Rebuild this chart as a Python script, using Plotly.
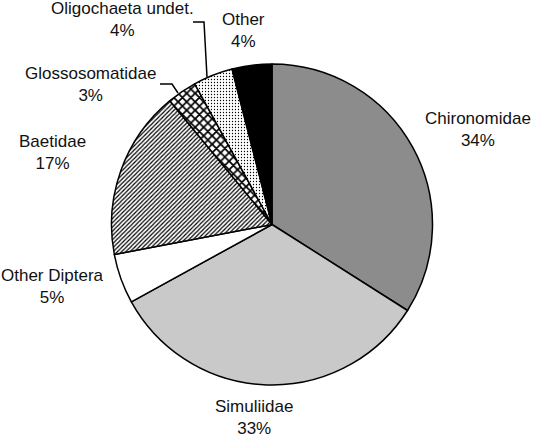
import plotly.graph_objects as go

taxa = ["Chironomidae", "Simuliidae", "Other Diptera", "Baetidae",
        "Glossosomatidae", "Oligochaeta undet.", "Other"]
percent = [34, 33, 5, 17, 3, 4, 4]

fills = ["#8c8c8c", "#c9c9c9", "#ffffff", "#ffffff", "#ffffff", "#ffffff", "#000000"]
patterns = ["", "", "", "/", "x", ".", ""]

# label anchor points in pixels (x from left, y from top)
label_pos = {
    "Chironomidae": (478, 130),
    "Simuliidae": (254, 417),
    "Other Diptera": (52, 286),
    "Baetidae": (52, 152),
    "Glossosomatidae": (90, 84),
    "Oligochaeta undet.": (122, 20),
    "Other": (243, 30),
}

W, H = 536, 439
FONT = "Liberation Sans Narrow, Liberation Sans, Arial, sans-serif"

fig = go.Figure()
fig.add_pie(
    labels=taxa,
    values=percent,
    sort=False,
    direction="clockwise",
    rotation=0,
    textinfo="none",
    hoverinfo="label+percent",
    marker=dict(
        colors=fills,
        line=dict(color="#000000", width=1.5),
        pattern=dict(
            shape=patterns,
            fgcolor="#000000",
            bgcolor="#ffffff",
            size=[6, 6, 6, 3, 6, 3, 6],
            solidity=[0.3, 0.3, 0.3, 0.4, 0.5, 0.15, 0.3],
        ),
    ),
    domain=dict(x=[111 / W, 433 / W], y=[1 - 385 / H, 1 - 64 / H]),
    showlegend=False,
)

for name, pct in zip(taxa, percent):
    px, py = label_pos[name]
    fig.add_annotation(
        x=px / W, y=1 - py / H, xref="paper", yref="paper",
        text=f"{name}<br>{pct}%", showarrow=False,
        font=dict(family=FONT, size=17, color="#111111"),
        xanchor="center", yanchor="middle",
    )

# leader lines for the two narrow slices
leaders = [
    [(193, 22), (204, 22), (207, 77)],
    [(160, 84), (172, 84), (178, 93)],
]
for pts in leaders:
    path = "M " + " L ".join(f"{x / W} {1 - y / H}" for x, y in pts)
    fig.add_shape(type="path", path=path, xref="paper", yref="paper",
                  line=dict(color="#000000", width=1.5))

fig.update_layout(
    width=W, height=H,
    margin=dict(l=0, r=0, t=0, b=0),
    paper_bgcolor="#ffffff",
    plot_bgcolor="#ffffff",
)

fig.write_html("out.html", config={"displayModeBar": False},
               post_script="document.body.style.margin='0';")
